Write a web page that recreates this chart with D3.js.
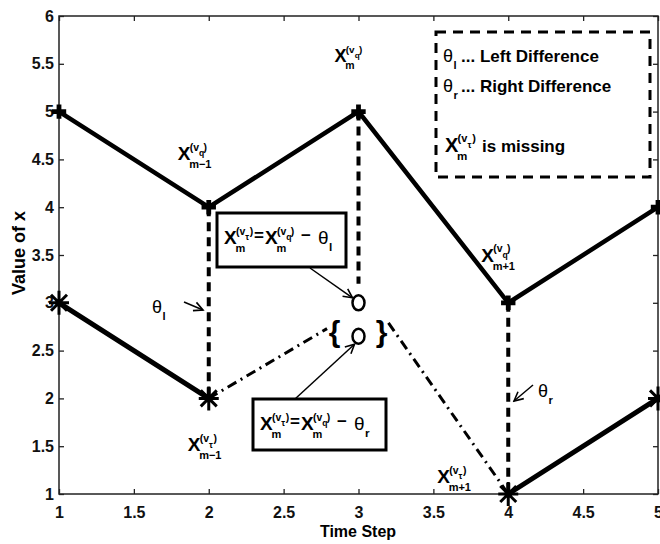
<!DOCTYPE html>
<html>
<head>
<meta charset="utf-8">
<script src="https://cdn.jsdelivr.net/npm/d3@7"></script>
<style>
  body { margin: 0; background: #fff; }
  svg { display: block; font-family: "Liberation Sans", Arial, Helvetica, sans-serif; }
</style>
</head>
<body>
<svg id="chart" width="660" height="544"></svg>
<script>
// Observed neighbouring variable X^(v_q) at each time step
const timeSteps = [1, 2, 3, 4, 5];
const observed = [5, 4, 5, 3, 4];
// Target variable X^(v_tau); the value at step 3 is missing
const target = [3, 2, null, 1, 2];
// Two candidate estimates for the missing value (from the left and right differences)
const estimateStep = 3;
const estimates = [3.0, 2.65];
// Dash-dot links from the neighbouring target values to the bracketed estimates
const leftLink = [[2, 2], [2.79, 2.73]];
const rightLink = [[3.2, 2.79], [4, 1]];
// Vertical difference segments: [step, from, to]
const diffSegments = [[2, 4, 2], [3, 5, 3.2], [4, 3, 1]];
// Axis ticks
const xTicks = [1, 1.5, 2, 2.5, 3, 3.5, 4, 4.5, 5];
const yTicks = [1, 1.5, 2, 2.5, 3, 3.5, 4, 4.5, 5, 5.5, 6];

const svg = d3.select("#chart");
const x = d3.scaleLinear().domain([1, 5]).range([59, 658]);
const y = d3.scaleLinear().domain([1, 6]).range([494, 16]);

// ---- axes (box with inward ticks on all sides) ----
const fmt = d3.format("");
const gx = svg.append("g").attr("transform", `translate(0,${y(1)})`)
  .call(d3.axisBottom(x).tickValues(xTicks).tickSizeInner(-5).tickSizeOuter(0).tickPadding(13).tickFormat(fmt));
const gxTop = svg.append("g").attr("transform", `translate(0,${y(6)})`)
  .call(d3.axisTop(x).tickValues(xTicks).tickSizeInner(-5).tickSizeOuter(0).tickFormat(""));
const gy = svg.append("g").attr("transform", `translate(${x(1)},0)`)
  .call(d3.axisLeft(y).tickValues(yTicks).tickSizeInner(-5).tickSizeOuter(0).tickPadding(5).tickFormat(fmt));
const gyRight = svg.append("g").attr("transform", `translate(${x(5)},0)`)
  .call(d3.axisRight(y).tickValues(yTicks).tickSizeInner(-5).tickSizeOuter(0).tickFormat(""));

[gx, gxTop, gy, gyRight].forEach(g => {
  g.select(".domain").remove();
  g.selectAll(".tick line").attr("stroke", "#222").attr("stroke-width", 1.3);
});
[gx, gy].forEach(g => g.selectAll(".tick text")
  .attr("font-size", 16).attr("font-weight", "bold").attr("fill", "#111")
  .attr("font-family", "'Liberation Sans', Arial, sans-serif"));

svg.append("rect")
  .attr("x", x(1)).attr("y", y(6))
  .attr("width", x(5) - x(1)).attr("height", y(1) - y(6))
  .attr("fill", "none").attr("stroke", "#222").attr("stroke-width", 1.5);

// axis titles
svg.append("text").attr("x", 358).attr("y", 537)
  .attr("text-anchor", "middle").attr("font-size", 16).attr("font-weight", "bold")
  .text("Time Step");
svg.append("text").attr("transform", "translate(25,253) rotate(-90)")
  .attr("text-anchor", "middle").attr("font-size", 18).attr("font-weight", "bold")
  .text("Value of x");

// ---- vertical difference lines ----
svg.append("g").selectAll("line").data(diffSegments).join("line")
  .attr("x1", d => x(d[0])).attr("x2", d => x(d[0]))
  .attr("y1", d => y(d[1])).attr("y2", d => y(d[2]))
  .attr("stroke", "#000").attr("stroke-width", 4).attr("stroke-dasharray", "9,6");

// ---- dash-dot links ----
const line = d3.line().x(d => x(d[0])).y(d => y(d[1]));
svg.append("g").selectAll("path").data([leftLink, rightLink]).join("path")
  .attr("d", line).attr("fill", "none").attr("stroke", "#000")
  .attr("stroke-width", 3).attr("stroke-dasharray", "10,5,2,5");

// ---- series lines ----
const obsPts = timeSteps.map((t, i) => [t, observed[i]]);
const tgtPts = timeSteps.map((t, i) => [t, target[i]]);
svg.append("path").attr("d", line(obsPts))
  .attr("fill", "none").attr("stroke", "#000").attr("stroke-width", 4.5).attr("stroke-linejoin", "miter");
svg.append("path").attr("d", d3.line().defined(d => d[1] !== null).x(d => x(d[0])).y(d => y(d[1]))(tgtPts))
  .attr("fill", "none").attr("stroke", "#000").attr("stroke-width", 5);

// ---- markers ----
svg.append("g").selectAll("path").data(obsPts).join("path")
  .attr("transform", d => `translate(${x(d[0])},${y(d[1])})`)
  .attr("d", d3.symbol(d3.symbolCross, 115))
  .attr("fill", "#000");

const asterisk = "M0,-12L0,12M-10,0L10,0M-8,-8L8,8M-8,8L8,-8";
svg.append("g").selectAll("path").data(tgtPts.filter(d => d[1] !== null)).join("path")
  .attr("transform", d => `translate(${x(d[0])},${y(d[1])})`)
  .attr("d", asterisk).attr("fill", "none").attr("stroke", "#000").attr("stroke-width", 3);

// candidate estimates (open circles) with braces around the lower one
svg.append("g").selectAll("ellipse").data(estimates).join("ellipse")
  .attr("cx", x(estimateStep)).attr("cy", d => y(d))
  .attr("rx", 6).attr("ry", 7.5)
  .attr("fill", "#fff").attr("stroke", "#000").attr("stroke-width", 2.5);
const braceBase = y(estimates[1]) + 6;
svg.append("text").attr("x", x(estimateStep) - 24).attr("y", braceBase)
  .attr("text-anchor", "middle").attr("font-size", 30).attr("font-weight", "bold").text("{");
svg.append("text").attr("x", x(estimateStep) + 23).attr("y", braceBase)
  .attr("text-anchor", "middle").attr("font-size", 30).attr("font-weight", "bold").text("}");

// ---- helpers for math-style labels ----
// Draws X with superscript (v_inner) and subscript sub, baseline at (x0, y0)
function mathVar(g, x0, y0, s, inner, sub) {
  const t = (tx, ty, size, str) => g.append("text").attr("x", tx).attr("y", ty)
    .attr("font-size", size).attr("font-weight", "bold").text(str);
  t(x0, y0, s, "X");
  t(x0 + 0.63 * s, y0 - 0.5 * s, 0.55 * s, "(v");
  t(x0 + 1.12 * s, y0 - 0.2 * s, 0.45 * s, inner);
  t(x0 + 1.36 * s, y0 - 0.5 * s, 0.55 * s, ")");
  t(x0 + 0.6 * s, y0 + 0.42 * s, 0.58 * s, sub);
}
function theta(g, x0, y0, s, sub) {
  g.append("text").attr("x", x0).attr("y", y0).attr("font-size", s).text("θ");
  g.append("text").attr("x", x0 + 0.58 * s).attr("y", y0 + 0.38 * s)
    .attr("font-size", 0.62 * s).attr("font-weight", "bold").text(sub);
}

const labels = svg.append("g");
mathVar(labels, x(2) - 31, y(4) - 47, 19, "q", "m\u22121");
mathVar(labels, x(3) - 24, y(5) - 50, 18, "q", "m");
mathVar(labels, x(4) - 27, y(3) - 41, 19, "q", "m+1");
mathVar(labels, x(2) - 21, y(2) + 53, 19, "\u03c4", "m\u22121");
mathVar(labels, x(4) - 71, y(1) - 11, 19, "\u03c4", "m+1");

// difference annotations with arrows
const defs = svg.append("defs");
defs.append("marker").attr("id", "head").attr("viewBox", "-10 -6 12 12")
  .attr("refX", 0).attr("refY", 0).attr("markerWidth", 12).attr("markerHeight", 12)
  .attr("markerUnits", "userSpaceOnUse").attr("orient", "auto")
  .append("path").attr("d", "M-9,-4.5L0,0L-9,4.5").attr("fill", "none")
  .attr("stroke", "#000").attr("stroke-width", 1.6);

theta(labels, 152, 313, 18, "l");
theta(labels, 538, 397, 18, "r");
const arrows = [
  [184, 302, 203, 310],
  [533, 385, 514, 401],
  [310, 268, x(estimateStep) - 6, y(estimates[0]) - 5],
  [295, 399, x(estimateStep) - 4, y(estimates[1]) + 8]
];
svg.append("g").selectAll("line").data(arrows).join("line")
  .attr("x1", d => d[0]).attr("y1", d => d[1]).attr("x2", d => d[2]).attr("y2", d => d[3])
  .attr("stroke", "#000").attr("stroke-width", 1.5).attr("marker-end", "url(#head)");

// ---- formula boxes ----
function formulaBox(x0, y0, w, h, thetaSub) {
  const g = svg.append("g");
  g.append("rect").attr("x", x0).attr("y", y0).attr("width", w).attr("height", h)
    .attr("fill", "#fff").attr("stroke", "#000").attr("stroke-width", 3);
  const bx = x0 + 7, by = y0 + 31, s = 19;
  mathVar(g, bx, by, s, "\u03c4", "m");
  g.append("text").attr("x", bx + 30).attr("y", by - 3).attr("font-size", 17).attr("font-weight", "bold").text("=");
  mathVar(g, bx + 41, by, s, "q", "m");
  g.append("text").attr("x", bx + 77).attr("y", by - 3).attr("font-size", 17).attr("font-weight", "bold").text("\u2212");
  theta(g, bx + 94, by, 19, thetaSub);
}
formulaBox(217, 213, 129, 54, "l");
formulaBox(253, 399, 133, 51, "r");

// ---- legend ----
const lg = svg.append("g");
lg.append("rect").attr("x", 436).attr("y", 32).attr("width", 214).attr("height", 145)
  .attr("fill", "none").attr("stroke", "#000").attr("stroke-width", 3)
  .attr("stroke-dasharray", "10,7");
theta(lg, 443, 62, 18, "l");
lg.append("text").attr("x", 461).attr("y", 62).attr("font-size", 17).attr("font-weight", "bold").text("... Left Difference");
theta(lg, 443, 92, 18, "r");
lg.append("text").attr("x", 461).attr("y", 92).attr("font-size", 17).attr("font-weight", "bold").text("... Right Difference");
mathVar(lg, 445, 152, 20, "\u03c4", "m");
lg.append("text").attr("x", 482).attr("y", 152).attr("font-size", 17).attr("font-weight", "bold").text("is missing");
</script>
</body>
</html>
